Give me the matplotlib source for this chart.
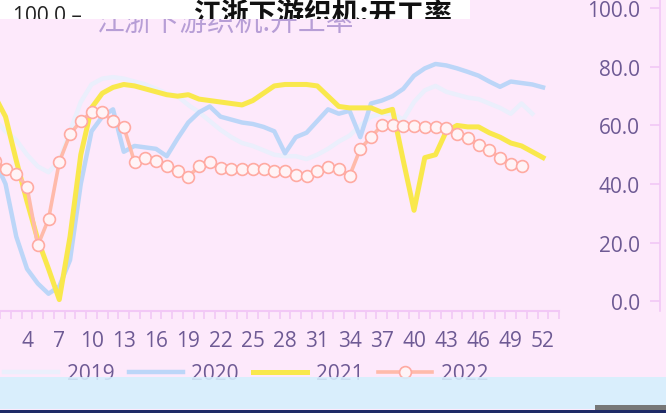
import matplotlib
matplotlib.use("Agg")
import matplotlib.pyplot as plt
from matplotlib.patches import Rectangle
from matplotlib.ticker import MultipleLocator, FixedLocator, FormatStrFormatter

plt.rcParams['font.family'] = ['Open Sans', 'Noto Sans CJK SC', 'DejaVu Sans']

# 周次
weeks = list(range(1, 53))
xticks = list(range(1, 53, 3))

y2019 = [62, 58, 55, 50, 46, 44, 48, 58, 68, 74, 76, 76.5, 76, 75, 74, 72.5, 71, 70, 67, 64.5,
         61.5, 58.5, 56, 54, 53, 51.5, 50, 49.5, 49.5, 48.5, 50, 52, 54.5, 56.5, 60, 63, 64, 64,
         62, 68, 72, 73.5, 71.5, 70.5, 69.5, 69, 67.5, 66, 64, 67.5, 64, None]
y2020 = [48, 40, 22, 11, 6, 2.5, 5, 14, 40, 58, 63, 65.5, 51, 53, 52.5, 52, 49.5, 55.5, 61, 64.5,
         66.5, 63, 62, 61, 60.5, 59.5, 58, 50.5, 56, 57.5, 61.5, 65.5, 64, 65, 56, 67.5, 68.5, 70,
         72.5, 77, 79.5, 81, 80.5, 79.5, 78.3, 77, 75, 73.2, 75, 74.5, 74, 73]
y2021 = [70, 63, 48, 34, 21, 11, 0.5, 22, 50, 66, 71, 73, 74, 73.5, 72.5, 71.5, 70.5, 70, 70.5, 69,
         68.5, 68, 67.5, 67, 68.5, 71, 73.5, 74, 74, 74, 73.5, 70, 66.5, 66, 66, 66, 64.5, 65.5,
         48, 31, 49, 50, 58, 60, 59.5, 59.5, 57.5, 56, 54, 53, 51, 49]
y2022 = [48, 45, 43.5, 39, 19, 28, 47.5, 57, 61.5, 64.5, 64.5, 61.5, 59.5, 47.5, 49, 48, 46, 44.5,
         42.5, 46, 47.5, 45.5, 45, 45, 45, 45, 44.5, 44.5, 43, 42.8, 44.5, 45.8, 45, 42.7, 52, 56,
         60, 60, 59.8, 59.7, 59.5, 59.5, 59, 57, 55.7, 53.3, 51.6, 49, 46.8, 46.2, None, None]

series = [
    ('2019', y2019, '#ebeffc'),
    ('2020', y2020, '#bcd6f8'),
    ('2021', y2021, '#f9e84c'),
    ('2022', y2022, '#ffbaaa'),
]

W, H = 666, 414
BG = '#fde9fb'
TXT = '#6e5a94'
AXC = '#f2c8f6'

fig = plt.figure(figsize=(W / 100, H / 100), dpi=100)
fig.set_facecolor(BG)

# zone du graphe principal (en pixels -> fractions)
ax = fig.add_axes([-10.6 / W, 102 / H, 569.75 / W, 312 / H])
ax.set_facecolor('none')
ax.set_xlim(0.5, 53.5)
ax.set_ylim(-3.4, 103.2)

handles = []
for name, vals, col in series:
    v = [float('nan') if a is None else a for a in vals]
    if name == '2022':
        h, = ax.plot(weeks, v, color=col, lw=2.6, marker='o', ms=8.5,
                     mfc='#fff3f6', mec='#ffaaa2', mew=1.2, label=name, zorder=5)
    elif name == '2021':
        h, = ax.plot(weeks, v, color=col, lw=3.6, label=name, zorder=4)
    else:
        h, = ax.plot(weeks, v, color=col, lw=3.2, label=name, zorder=3)
    handles.append(h)

for s in ['top', 'right', 'left']:
    ax.spines[s].set_visible(False)
ax.spines['bottom'].set_color(AXC)
ax.spines['bottom'].set_linewidth(1.5)
ax.set_yticks([])
ax.xaxis.set_major_locator(FixedLocator(xticks))
ax.set_xticklabels([str(t) for t in xticks])
ax.xaxis.set_minor_locator(MultipleLocator(1, offset=0.5))
ax.tick_params(axis='x', which='major', length=0, pad=14, labelsize=15, labelcolor=TXT)
ax.tick_params(axis='x', which='minor', length=6, width=1.2, color=AXC, direction='out')

# axe de droite
ax2 = fig.add_axes([660 / W, 102 / H, 0.05, 312 / H])
ax2.set_facecolor('none')
ax2.set_ylim(-3.4, 103.2)
for s in ['top', 'right', 'bottom']:
    ax2.spines[s].set_visible(False)
ax2.spines['left'].set_color(AXC)
ax2.spines['left'].set_linewidth(1.2)
ax2.set_xticks([])
ax2.set_yticks(range(0, 101, 20))
ax2.yaxis.set_major_formatter(FormatStrFormatter('%.1f'))
ax2.tick_params(axis='y', length=7.5, width=1.2, color=AXC, pad=7, labelsize=15, labelcolor=TXT)

# titre (en partie caché)
fig.text(226 / W, 1 - 23 / H, '江浙下游织机:开工率', ha='center', va='center',
         fontsize=20, color='#b79ed6', family=['Noto Sans CJK SC'], zorder=1)
band = Rectangle((0, 1 - 20 / H), 470 / W, 20 / H, transform=fig.transFigure,
                 facecolor='white', edgecolor='none', zorder=2)
fig.patches.append(band)
t1 = fig.text(322 / W, 1 - 15 / H, '江浙下游织机:开工率', ha='center', va='center',
              fontsize=20, fontweight='bold', color='#111111', family=['Noto Sans CJK SC'], zorder=3)
t1.set_clip_path(band)
t2 = fig.text(13 / W, 1 - 16 / H, '100.0 –', ha='left', va='center', fontsize=15,
              color='#222222', zorder=3)
t2.set_clip_path(band)

# légende
leg = fig.legend(handles=handles, loc='center', bbox_to_anchor=(246 / W, 1 - 375 / H),
                 ncol=4, frameon=False, fontsize=15, handlelength=2.6, handletextpad=0.4,
                 columnspacing=0.7)
for t in leg.get_texts():
    t.set_color(TXT)

# bandes du bas
fig.patches.append(Rectangle((0, 4 / H), 1, 32 / H, transform=fig.transFigure,
                             facecolor='#d5effd', edgecolor='none', alpha=0.88, zorder=6))
fig.patches.append(Rectangle((0, 0), 1, 3 / H, transform=fig.transFigure,
                             facecolor='#1e2a66', edgecolor='none', zorder=7))
fig.patches.append(Rectangle((595 / W, 3 / H), 71 / W, 5 / H, transform=fig.transFigure,
                             facecolor='#777777', edgecolor='none', zorder=7))

fig.savefig('out.png', dpi=100, facecolor=BG)
